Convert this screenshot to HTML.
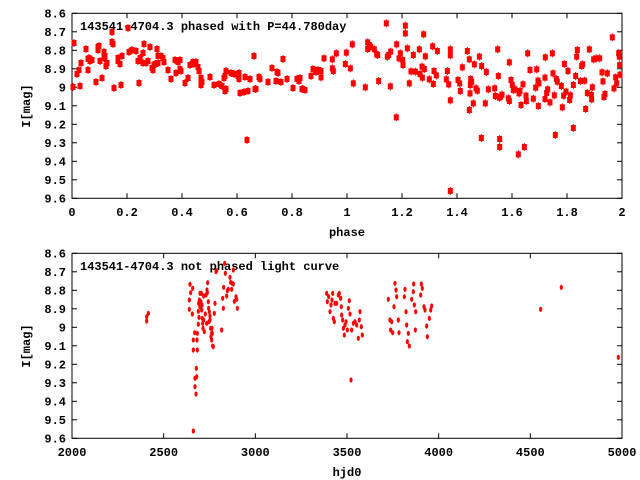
<!DOCTYPE html>
<html><head><meta charset="utf-8"><style>
html,body{margin:0;padding:0;background:#fff;width:640px;height:480px;overflow:hidden}
svg text{font-family:"Liberation Mono","DejaVu Sans Mono",monospace;font-weight:bold;font-size:12px;fill:#000}
</style></head><body>
<svg id="s" width="640" height="480" xmlns="http://www.w3.org/2000/svg">
<rect width="640" height="480" fill="#fff"/>
<rect x="72" y="13.3" width="550" height="185" fill="none" stroke="#000" stroke-width="1"/>
<rect x="72" y="253.3" width="550" height="185" fill="none" stroke="#000" stroke-width="1"/>
<text x="80" y="30">143541-4704.3 phased with P=44.780day</text>
<text x="80" y="270">143541-4704.3 not phased light curve</text>
<text x="347" y="236" text-anchor="middle">phase</text>
<text x="347" y="476" text-anchor="middle">hjd0</text>
<text transform="translate(30,106) rotate(-90)" text-anchor="middle">I[mag]</text>
<text transform="translate(30,346) rotate(-90)" text-anchor="middle">I[mag]</text>
<g id="g"></g>
</svg>
<script>
var ns="http://www.w3.org/2000/svg",g=document.getElementById("g");
function el(n,a,t){var e=document.createElementNS(ns,n);for(var k in a)e.setAttribute(k,a[k]);if(t)e.textContent=t;g.appendChild(e);}
var yl=["8.6","8.7","8.8","8.9","9","9.1","9.2","9.3","9.4","9.5","9.6"];
[13.3,253.3].forEach(function(t){for(var i=0;i<=10;i++){var y=t+i*18.5;
el("line",{x1:72,x2:77,y1:y,y2:y,stroke:"#000"});el("line",{x1:617,x2:622,y1:y,y2:y,stroke:"#000"});
el("text",{x:66,y:y+4,"text-anchor":"end"},yl[i]);}});
var xl1=["0","0.2","0.4","0.6","0.8","1","1.2","1.4","1.6","1.8","2"];
for(var i=0;i<=10;i++){var x=72+i*55;el("line",{x1:x,x2:x,y1:198.3,y2:193.3,stroke:"#000"});el("line",{x1:x,x2:x,y1:13.3,y2:18.3,stroke:"#000"});el("text",{x:x,y:216,"text-anchor":"middle"},xl1[i]);}
var xl2=["2000","2500","3000","3500","4000","4500","5000"];
for(var i=0;i<=6;i++){var x=72+i*550/6;el("line",{x1:x,x2:x,y1:438.3,y2:433.3,stroke:"#000"});el("line",{x1:x,x2:x,y1:253.3,y2:258.3,stroke:"#000"});el("text",{x:x,y:456,"text-anchor":"middle"},xl2[i]);}
var A=[73,87,74,43,77,74,79,70,80,86,81,63,86,49,88,59,88,70,89,58,90,61,92,60,96,82,98,47,98,50,99,46,100,61,102,78,104,58,104,52,105,56,106,66,107,63,112,32,112,42,113,44,114,88,118,58,118,61,120,64,121,85,122,56,128,28,129,52,132,50,136,51,138,61,139,83,140,58,143,53,143,63,144,44,146,63,148,61,150,47,152,68,153,70,154,65,155,64,157,49,158,56,158,63,161,56,163,58,164,62,168,70,171,79,175,60,176,73,177,61,178,62,180,60,180,69,181,71,185,83,188,78,190,65,192,64,193,62,194,64,196,62,198,67,199,71,201,78,201,81,201,85,202,82,210,77,214,85,219,84,222,86,224,78,225,76,226,71,225,91,226,89,231,73,234,74,238,74,238,76,239,79,239,73,240,93,244,92,245,77,247,140,248,91,250,79,254,56,255,89,256,89,259,77,260,79,268,82,272,68,276,81,277,72,278,73,281,82,283,59,287,79,293,88,297,79,299,81,299,79,300,78,302,89,303,89,305,90,311,76,313,69,316,72,318,70];
var B=[3,213,3,232,12,175,37,178,37,205,40,213,49,160,76,192,79,158,91,205,97,133,100,250,136,262,143,127,143,147,148,135,152,140,163,148,170,163,173,165,176,243,199,70,202,170,206,165,212,155,211,259,230,133,229,352,237,175,241,160,248,180,249,195,256,77,256,100,262,145,268,250,273,214,280,165,286,215,298,148,300,222,306,200,307,233,311,103,313,207,316,169,328,238,338,139,340,252,342,213,349,226,352,153,379,238,382,213,386,253,391,148,391,166,391,301,391,573,414,240,419,250,421,273,427,202,442,153,448,178,448,330,450,280,451,255,452,237,455,245,460,310,463,193,468,265,472,272,478,170,484,414,485,198,496,310,499,216,505,268,524,265,526,288,533,148,535,228,538,293,539,417,539,441,542,290,546,284,565,295,568,187,568,303,573,240,577,255,580,270,585,268,595,463,597,280,600,273,603,315,609,253,613,441,618,287,619,303,623,160,630,210,640,296,647,263,650,208,654,242,655,318,657,250,675,233,675,297,676,172,680,279,683,268,690,307,697,160,699,220,703,286,706,405,709,237,712,245,724,258,727,322,731,287,733,192,738,275,744,213,749,300,751,286,760,255,760,384,767,228,770,170,772,150,781,243,785,198,788,193,794,242,797,327,802,279,808,148,814,285,815,298,817,262,821,178,829,175,839,175,846,217,849,244,852,291,855,282,862,220,877,112,882,265,887,232,890,250,896,160,899,195,900,224,898,170];
var C=[440,243,440,230,445,220,568,180,568,208,570,133,572,158,577,222,578,145,580,300,580,330,580,573,584,278,585,440,585,415,588,462,589,385,590,410,591,300,592,330,592,280,595,253,595,214,596,190,597,232,598,180,600,160,600,200,603,185,605,210,606,195,607,235,608,250,609,265,611,240,613,275,616,222,618,165,620,250,621,150,622,158,623,128,625,185,626,205,628,215,630,240,632,265,633,290,635,300,637,280,638,318,640,320,643,220,645,190,648,95,650,92,665,270,668,175,670,205,671,142,674,70,676,100,680,168,682,152,685,148,690,112,692,127,695,148,697,130,700,90,700,132,703,184,708,170,710,178,712,205,604,160,611,168,627,245,630,228,636,265,635,280];
var D=[20,160,22,185,26,170,30,215,33,195,36,180,38,160,40,235,43,245,45,190,50,190,55,165,58,160,62,175,64,200,65,225,68,240,70,265,73,285,75,255,78,245,82,270,85,205,88,182,90,222,93,420,95,270,100,250,105,245,110,255,115,295,118,240,120,215,124,260,127,285,205,178,210,240,212,270,215,245,218,278,222,200,225,130,228,150,230,170,235,240,237,278,253,170,255,148,258,215,260,255,262,305,265,280,268,318,275,178,280,155,281,132,283,195,286,270,287,215,302,165,304,132,307,145,312,200,315,210,320,258,322,290,328,235,332,210,335,198,662,208,724,142,895,352];
function sq(x,y){el("rect",{x:x-2.5,y:y-3,width:5,height:6,fill:"#f00"});el("line",{x1:x,x2:x,y1:y-4,y2:y+4,stroke:"#f00"});}
function dm(x,y){el("ellipse",{cx:x,cy:y,rx:1.6,ry:2.6,fill:"#f00"});}
for(var i=0;i<A.length;i+=2)sq(A[i],A[i+1]);
for(var i=0;i<B.length;i+=2)sq(320+B[i]/3,B[i+1]/3);
for(var i=0;i<C.length;i+=2)dm(C[i]/3,240+C[i+1]/3);
for(var i=0;i<D.length;i+=2)dm(320+D[i]/3,240+D[i+1]/3);
</script>
</body></html>
